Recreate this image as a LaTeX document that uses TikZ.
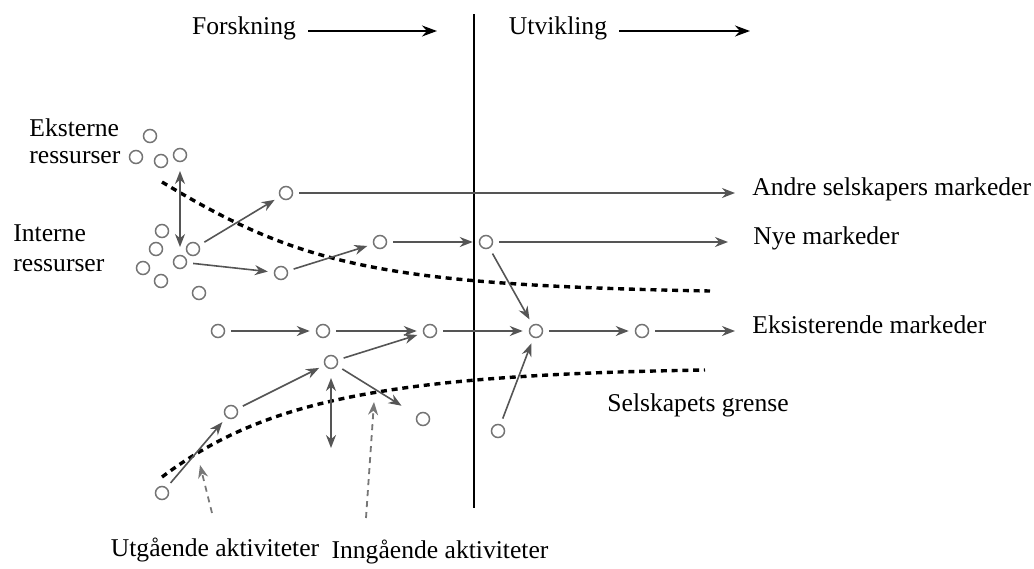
\documentclass[tikz,border=0pt]{standalone}
\usepackage{fontspec}
\setmainfont{Liberation Serif}
\usetikzlibrary{arrows.meta, positioning, calc}
\definecolor{dotgray}{RGB}{115,115,115}
\definecolor{arrgray}{RGB}{85,85,85}
\tikzset{
  dot/.style    = {circle, draw=dotgray, line width=0.75pt, minimum size=6.5pt, inner sep=0pt},
  lbl/.style    = {font=\fontsize{12.8}{13.5}\selectfont, inner sep=0pt, align=left},
  flow/.style   = {-{Stealth[length=6.5pt,width=5pt]}, line width=0.8pt, color=arrgray,
                   shorten <=3pt, shorten >=3pt},
  both/.style   = {{Stealth[length=6.5pt,width=5pt]}-{Stealth[length=6.5pt,width=5pt]},
                   line width=0.8pt, color=arrgray},
  hint/.style   = {-{Stealth[length=6.5pt,width=5pt]}, line width=0.9pt, color=arrgray!80,
                   dash pattern=on 3pt off 2.5pt},
  border/.style = {line width=1.7pt, dash pattern=on 3pt off 2.4pt},
  phase/.style  = {-{Stealth[length=7.5pt,width=5.5pt]}, line width=0.8pt},
}

\begin{document}
\begin{tikzpicture}[x=0.5pt, y=-0.5pt]
  \useasboundingbox (0,0) rectangle (1034,568);

  % ressurser
  \node[dot] (e1) at (150,136) {};
  \node[dot] (e2) at (136,157) {};
  \node[dot] (e3) at (161,161) {};
  \node[dot] (e4) at (180,155) {};
  \node[dot] (i1) at (162,231) {};
  \node[dot] (i2) at (156,249) {};
  \node[dot] (i3) at (193,249) {};
  \node[dot] (i4) at (180,262) {};
  \node[dot] (i5) at (143,268) {};
  \node[dot] (i6) at (161,281) {};
  \node[dot] (i7) at (199,293) {};

  % prosjekter
  \node[dot] (a1) at (286,193) {};
  \node[dot] (n1) at (281,273) {};
  \node[dot] (n2) at (380,242) {};
  \node[dot] (n3) at (486,242) {};
  \node[dot] (x1) at (218,331) {};
  \node[dot] (x2) at (323,331) {};
  \node[dot] (x3) at (430,331) {};
  \node[dot] (x4) at (536,331) {};
  \node[dot] (x5) at (642,331) {};
  \node[dot] (m1) at (331,362) {};
  \node[dot] (m2) at (231,412) {};
  \node[dot] (m3) at (162,493) {};
  \node[dot] (m4) at (423,419) {};
  \node[dot] (b1) at (498,431) {};

  % tekster
  \node[lbl, anchor=west] (ekst) at (29,141) {Eksterne\\ressurser};
  \node[lbl, anchor=west, font=\fontsize{12.8}{15}\selectfont] (int) at (13,248) {Interne\\ressurser};
  \node[lbl, anchor=west] (andre) at (752,189) {Andre selskapers markeder};
  \node[lbl, anchor=west] (nye) at (753,238) {Nye markeder};
  \node[lbl, anchor=west] (eks) at (752,325) {Eksisterende markeder};
  \node[lbl, anchor=west] (grense) at (607,405) {Selskapets grense};
  \node[lbl] (utg) at (215,550) {Utgående aktiviteter};
  \node[lbl] (inn) at (440,552) {Inngående aktiviteter};
  \node[lbl] (forsk) at (244,28) {Forskning};
  \node[lbl] (utv) at (558,28) {Utvikling};

  \coordinate (ftop) at (474,14);
  \coordinate (fbot) at (474,508);
  \coordinate (fend) at (437,31);
  \coordinate (uend) at (750,31);
  \coordinate (mdown) at (331,448);
  \coordinate (u0) at (212,513);
  \coordinate (u1) at (200,465);
  \coordinate (g0) at (366,518);
  \coordinate (g1) at (374,402);

  \draw[line width=1.1pt] (ftop) -- (fbot);
  \draw[phase] (forsk.east) ++(12,3) -- (fend);
  \draw[phase] (utv.east) ++(12,3) -- (uend);

  \draw[border] (162,182) .. controls (300,265) and (380,285) .. (710,291);
  \draw[border] (162,477) .. controls (262,402) and (380,375) .. (705,370);

  \draw[both] ($(e4)+(0,16)$) -- ($(i4)+(0,-15)$);
  \draw[both] ($(m1)+(0,16)$) -- (mdown);

  \draw[flow] (i3) -- (a1);
  \draw[flow] (i4) -- (n1);
  \draw[flow] (n1) -- (n2);
  \draw[flow] (n2) -- (n3);
  \draw[flow, shorten >=8.5pt] (a1) -- (a1 -| andre.west);
  \draw[flow, shorten >=12.5pt] (n3) -- (n3 -| nye.west);
  \draw[flow] (x1) -- (x2);
  \draw[flow] (x2) -- (x3);
  \draw[flow] (x3) -- (x4);
  \draw[flow] (x4) -- (x5);
  \draw[flow, shorten >=8.5pt] (x5) -- (x5 -| eks.west);
  \draw[flow] (n3) -- (x4);
  \draw[flow] (b1) -- (x4);
  \draw[flow] (m1) -- (x3);
  \draw[flow, shorten >=9pt] (m1) -- (m4);
  \draw[flow] (m2) -- (m1);
  \draw[flow] (m3) -- (m2);

  \draw[hint] (u0) -- (u1);
  \draw[hint] (g0) -- (g1);
\end{tikzpicture}
\end{document}
